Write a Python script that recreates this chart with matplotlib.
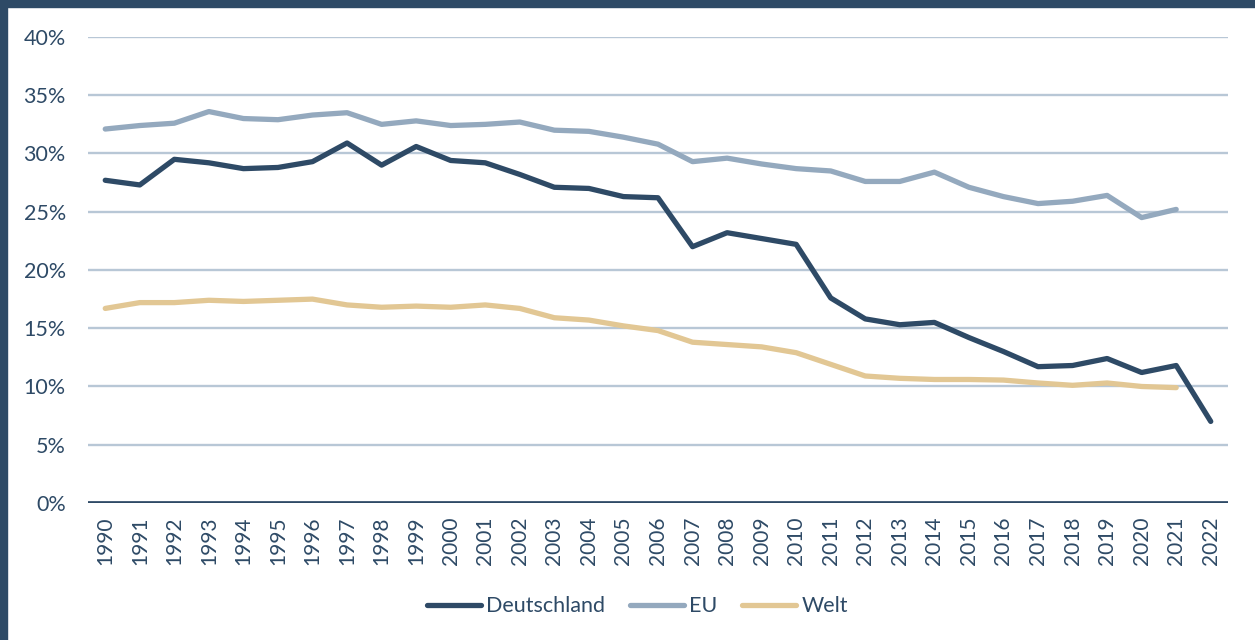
import matplotlib.pyplot as plt
import matplotlib.patches as mpatches
from matplotlib.ticker import FuncFormatter, MultipleLocator
import numpy as np

years = list(range(1990, 2023))

deutschland = [27.7, 27.3, 29.5, 29.2, 28.7, 28.8, 29.3, 30.9, 29.0, 30.6,
               29.4, 29.2, 28.2, 27.1, 27.0, 26.3, 26.2, 22.0, 23.2, 22.7,
               22.2, 17.6, 15.8, 15.3, 15.5, 14.2, 13.0, 11.7, 11.8, 12.4,
               11.2, 11.8, 7.0]
eu = [32.1, 32.4, 32.6, 33.6, 33.0, 32.9, 33.3, 33.5, 32.5, 32.8,
      32.4, 32.5, 32.7, 32.0, 31.9, 31.4, 30.8, 29.3, 29.6, 29.1,
      28.7, 28.5, 27.6, 27.6, 28.4, 27.1, 26.3, 25.7, 25.9, 26.4,
      24.5, 25.2, np.nan]
welt = [16.7, 17.2, 17.2, 17.4, 17.3, 17.4, 17.5, 17.0, 16.8, 16.9,
        16.8, 17.0, 16.7, 15.9, 15.7, 15.2, 14.8, 13.8, 13.6, 13.4,
        12.9, 11.9, 10.9, 10.7, 10.6, 10.6, 10.55, 10.3, 10.1, 10.3,
        10.0, 9.9, np.nan]

navy = "#2E4A66"
blue_grey = "#94A9BE"
sand = "#E2C794"
grid_col = "#B8C7D6"

plt.rcParams["font.family"] = ["Lato", "DejaVu Sans"]

fig = plt.figure(figsize=(12.55, 6.4), dpi=100)
ax = fig.add_axes([0.0701, 0.2141, 0.9084, 0.7281])

x = np.arange(len(years))
ax.plot(x, deutschland, color=navy, lw=3.8, label="Deutschland", solid_capstyle="round", zorder=4)
ax.plot(x, eu, color=blue_grey, lw=3.8, label="EU", solid_capstyle="round", zorder=3)
ax.plot(x, welt, color=sand, lw=3.8, label="Welt", solid_capstyle="round", zorder=3)

ax.set_xlim(-0.5, len(years) - 0.5)
ax.set_ylim(0, 40)
ax.yaxis.set_major_locator(MultipleLocator(5))
ax.yaxis.set_major_formatter(FuncFormatter(lambda v, p: f"{v:.0f}%"))
ax.grid(axis="y", color=grid_col, lw=1.7)
ax.set_axisbelow(True)
ax.axhline(0, color=navy, lw=3.4, zorder=5)

ax.set_xticks(x)
ax.set_xticklabels([str(y) for y in years], rotation=90)
ax.tick_params(axis="x", length=0, pad=10, labelsize=15, labelcolor=navy)
ax.tick_params(axis="y", length=0, pad=16, labelsize=15.5, labelcolor=navy)
for s in ax.spines.values():
    s.set_visible(False)

leg = fig.legend(loc="center", bbox_to_anchor=(0.508, 0.053), ncol=3, frameon=False,
                 fontsize=15.5, handlelength=2.5, handletextpad=0.25, columnspacing=1.15)
for t in leg.get_texts():
    t.set_color(navy)

# dark frame at top and left edge
fig.patches.append(mpatches.Rectangle((0, 1 - 7 / 640), 1, 7 / 640, transform=fig.transFigure,
                                      color=navy, zorder=10))
fig.patches.append(mpatches.Rectangle((0, 0), 7 / 1255, 1, transform=fig.transFigure,
                                      color=navy, zorder=10))

fig.savefig("out.png", dpi=100)
